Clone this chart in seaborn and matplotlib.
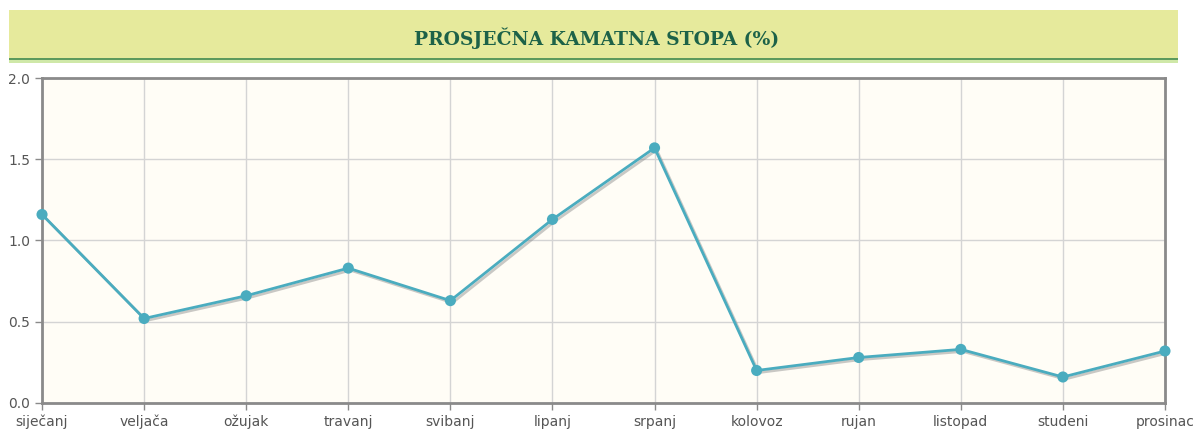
import pandas as pd
import seaborn as sns
import matplotlib.pyplot as plt
import matplotlib.patheffects as pe
from matplotlib.patches import Rectangle

months = ["siječanj", "veljača", "ožujak", "travanj", "svibanj", "lipanj",
          "srpanj", "kolovoz", "rujan", "listopad", "studeni", "prosinac"]
rate = [1.16, 0.52, 0.66, 0.83, 0.63, 1.13, 1.57, 0.20, 0.28, 0.33, 0.16, 0.32]
y_ticks = [0.0, 0.5, 1.0, 1.5, 2.0]

df = pd.DataFrame({"mjesec": months, "stopa": rate})

sns.set_style("white")
plt.rcParams["font.family"] = ["DejaVu Sans"]

fig = plt.figure(figsize=(11.94, 4.30), dpi=100)
ax = fig.add_axes([0.0352, 0.0628, 0.9405, 0.7558])
ax.set_facecolor("#fffdf6")

# header band
fig.patches.append(Rectangle((9 / 1194, 0.862), 1169 / 1194, 0.115, transform=fig.transFigure,
                             facecolor="#e6ea9c", edgecolor="none", zorder=0))
fig.patches.append(Rectangle((9 / 1194, 0.853), 1169 / 1194, 0.009, transform=fig.transFigure,
                             facecolor="#cfe8a8", edgecolor="none", zorder=1))
fig.patches.append(Rectangle((9 / 1194, 0.860), 1169 / 1194, 0.006, transform=fig.transFigure,
                             facecolor="#5c9a5c", edgecolor="none", zorder=2))
fig.text(0.5, 0.912, "PROSJEČNA KAMATNA STOPA (%)", ha="center", va="center",
         fontsize=13.5, fontweight="bold", color="#1d6248", family="DejaVu Serif")

sns.lineplot(data=df, x="mjesec", y="stopa", ax=ax, color="#4aacbf", linewidth=2,
             marker="o", markersize=8, markeredgewidth=0, sort=False,
             path_effects=[pe.SimpleLineShadow(offset=(1.5, -1.5), shadow_color="#888888", alpha=0.45),
                           pe.Normal()], clip_on=False, zorder=5)

ax.set_xlim(0, len(months) - 1)
ax.set_ylim(0, 2.0)
ax.set_yticks(y_ticks)
ax.set_yticklabels([f"{v:.1f}" for v in y_ticks])
ax.set_xlabel("")
ax.set_ylabel("")
ax.grid(True, color="#d4d4d4", linewidth=1)
ax.set_axisbelow(True)
for s in ax.spines.values():
    s.set_color("#8a8a8a")
    s.set_linewidth(2)
ax.tick_params(axis="both", which="both", direction="out", length=5, width=1,
               color="#8a8a8a", labelsize=10, labelcolor="#555555", bottom=True, left=True)

fig.savefig("out.png", dpi=100, facecolor="white")
